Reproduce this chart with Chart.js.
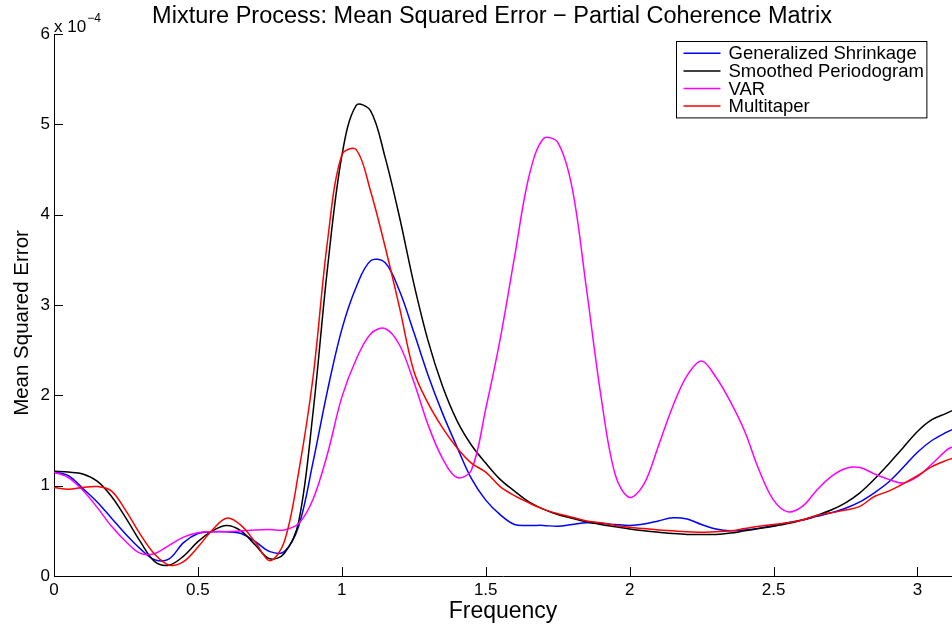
<!DOCTYPE html>
<html>
<head>
<meta charset="utf-8">
<title>Mixture Process MSE</title>
<script src="https://cdn.jsdelivr.net/npm/chart.js@4.4.1/dist/chart.umd.min.js"></script>
<style>
  html, body { margin: 0; padding: 0; background: #fff; }
  #wrap { width: 952px; height: 628px; position: relative; }
</style>
</head>
<body>
<div id="wrap"><canvas id="mseChart"></canvas></div>
<script>
// Frequency grid (radians), values in units of 1e-4
const freq = [
  0.00, 0.05, 0.10, 0.15, 0.20, 0.25, 0.30, 0.35, 0.40, 0.45,
  0.50, 0.55, 0.60, 0.65, 0.70, 0.75, 0.80, 0.85, 0.90, 0.95,
  1.00, 1.05, 1.10, 1.15, 1.20, 1.25, 1.30, 1.35, 1.40, 1.45,
  1.50, 1.55, 1.60, 1.65, 1.70, 1.75, 1.80, 1.85, 1.90, 1.95,
  2.00, 2.05, 2.10, 2.15, 2.20, 2.25, 2.30, 2.35, 2.40, 2.45,
  2.50, 2.55, 2.60, 2.65, 2.70, 2.75, 2.80, 2.85, 2.90, 2.95,
  3.00, 3.05, 3.10, 3.12
];

const shrinkage = [
  1.15, 1.11, 0.97, 0.82, 0.64, 0.46, 0.30, 0.18, 0.19, 0.37,
  0.47, 0.49, 0.49, 0.47, 0.38, 0.27, 0.27, 0.55, 1.26, 2.05,
  2.73, 3.20, 3.49, 3.47, 3.16, 2.70, 2.22, 1.80, 1.43, 1.08,
  0.84, 0.68, 0.57, 0.56, 0.56, 0.55, 0.57, 0.59, 0.585, 0.57,
  0.56, 0.575, 0.61, 0.645, 0.63, 0.57, 0.52, 0.50, 0.51, 0.53,
  0.56, 0.59, 0.62, 0.66, 0.70, 0.75, 0.82, 0.92, 1.04, 1.20,
  1.37, 1.50, 1.59, 1.62
];

const periodogram = [
  1.16, 1.15, 1.13, 1.05, 0.88, 0.64, 0.38, 0.16, 0.12, 0.22,
  0.38, 0.50, 0.56, 0.50, 0.34, 0.19, 0.25, 0.60, 1.81, 3.40,
  4.65, 5.21, 5.15, 4.64, 3.98, 3.24, 2.60, 2.10, 1.72, 1.45,
  1.25, 1.07, 0.94, 0.82, 0.74, 0.68, 0.64, 0.60, 0.57, 0.545,
  0.52, 0.50, 0.485, 0.47, 0.46, 0.46, 0.46, 0.475, 0.50, 0.525,
  0.55, 0.58, 0.62, 0.67, 0.73, 0.81, 0.92, 1.07, 1.24, 1.42,
  1.60, 1.73, 1.80, 1.83
];

const varModel = [
  1.15, 1.09, 0.95, 0.76, 0.55, 0.38, 0.25, 0.25, 0.34, 0.43,
  0.48, 0.49, 0.49, 0.50, 0.51, 0.515, 0.51, 0.58, 0.85, 1.35,
  1.98, 2.40, 2.68, 2.74, 2.56, 2.15, 1.67, 1.30, 1.09, 1.17,
  1.85, 2.62, 3.53, 4.42, 4.84, 4.80, 4.30, 3.18, 2.00, 1.12,
  0.87, 1.02, 1.44, 1.88, 2.22, 2.38, 2.20, 1.93, 1.60, 1.17,
  0.84, 0.71, 0.77, 0.95, 1.10, 1.19, 1.20, 1.13, 1.07, 1.03,
  1.10, 1.24, 1.39, 1.43
];

const multitaper = [
  0.98, 0.96, 0.98, 0.99, 0.94, 0.72, 0.46, 0.24, 0.12, 0.16,
  0.32, 0.51, 0.64, 0.56, 0.37, 0.17, 0.38, 1.15, 2.20, 3.70,
  4.66, 4.72, 4.26, 3.65, 2.98, 2.27, 1.91, 1.64, 1.42, 1.25,
  1.15, 0.99, 0.89, 0.81, 0.74, 0.69, 0.65, 0.61, 0.59, 0.56,
  0.54, 0.525, 0.51, 0.50, 0.49, 0.485, 0.49, 0.50, 0.525, 0.55,
  0.57, 0.59, 0.62, 0.67, 0.70, 0.73, 0.77, 0.88, 0.94, 1.02,
  1.11, 1.21, 1.28, 1.30
];

const seriesNames = ['Generalized Shrinkage', 'Smoothed Periodogram', 'VAR', 'Multitaper'];
const seriesColors = ['#0000ff', '#000000', '#ff00ff', '#ff0000'];
const xTicks = [0, 0.5, 1, 1.5, 2, 2.5, 3];
const yTicks = [0, 1, 2, 3, 4, 5, 6];
const chartTitle = 'Mixture Process: Mean Squared Error \u2212 Partial Coherence Matrix';
const yAxisTitle = 'Mean Squared Error';

const FONT = "'Liberation Sans', Arial, Helvetica, sans-serif";

function toPoints(values) {
  return freq.map((f, i) => ({ x: f, y: values[i] }));
}

// title and rotated y label, placed like the original figure
const figureText = {
  id: 'figureText',
  afterDraw(chart) {
    const { ctx } = chart;
    ctx.save();
    ctx.fillStyle = '#000';
    ctx.font = '23.5px ' + FONT;
    ctx.textAlign = 'center';
    ctx.textBaseline = 'alphabetic';
    ctx.fillText(chartTitle, 492, 23);

    ctx.translate(22, 323);
    ctx.rotate(-Math.PI / 2);
    ctx.font = '20.5px ' + FONT;
    ctx.textBaseline = 'middle';
    ctx.fillText(yAxisTitle, 0, 0);
    ctx.restore();
  }
};

// MATLAB style ticks pointing into the axes
const inwardTicks = {
  id: 'inwardTicks',
  afterDraw(chart) {
    const { ctx, chartArea, scales } = chart;
    ctx.save();
    ctx.strokeStyle = '#000';
    ctx.lineWidth = 1;
    ctx.beginPath();
    xTicks.forEach(v => {
      const px = Math.round(scales.x.getPixelForValue(v)) + 0.5;
      ctx.moveTo(px, chartArea.bottom);
      ctx.lineTo(px, chartArea.bottom - 9);
    });
    yTicks.forEach(v => {
      const py = Math.round(scales.y.getPixelForValue(v)) + 0.5;
      ctx.moveTo(chartArea.left, py);
      ctx.lineTo(chartArea.left + 9, py);
    });
    ctx.stroke();
    ctx.restore();
  }
};

// "x 10^-4" exponent label above the y axis
const exponentLabel = {
  id: 'exponentLabel',
  afterDraw(chart) {
    const { ctx, chartArea } = chart;
    ctx.save();
    ctx.fillStyle = '#000';
    ctx.textBaseline = 'alphabetic';
    ctx.textAlign = 'left';
    ctx.font = '17px ' + FONT;
    const base = 'x 10';
    ctx.fillText(base, chartArea.left, chartArea.top - 2);
    const w = ctx.measureText(base).width;
    ctx.font = '12px ' + FONT;
    ctx.fillText('\u22124', chartArea.left + w + 1, chartArea.top - 12);
    ctx.restore();
  }
};

// Boxed legend in the upper right corner
const boxLegend = {
  id: 'boxLegend',
  afterDraw(chart) {
    const { ctx } = chart;
    const sets = chart.data.datasets;
    ctx.save();
    ctx.font = '18.5px ' + FONT;
    let maxW = 0;
    sets.forEach(ds => { maxW = Math.max(maxW, ctx.measureText(ds.label).width); });
    const left = 676.5, top = 41.5, rowH = 17.6;
    const lineLen = 37, gap = 8, pad = 7;
    const width = pad + lineLen + gap + maxW + pad - 4;
    const height = rowH * sets.length + 6;
    ctx.fillStyle = '#fff';
    ctx.fillRect(left, top, width, height);
    ctx.strokeStyle = '#000';
    ctx.lineWidth = 1;
    ctx.strokeRect(left, top, width, height);
    ctx.textBaseline = 'middle';
    ctx.textAlign = 'left';
    sets.forEach((ds, i) => {
      const cy = top + 3 + rowH * i + rowH / 2;
      ctx.strokeStyle = ds.borderColor;
      ctx.lineWidth = 1.5;
      ctx.beginPath();
      ctx.moveTo(left + pad, cy);
      ctx.lineTo(left + pad + lineLen, cy);
      ctx.stroke();
      ctx.fillStyle = '#000';
      ctx.fillText(ds.label, left + pad + lineLen + gap, cy + 1);
    });
    ctx.restore();
  }
};

const dataSets = [shrinkage, periodogram, varModel, multitaper].map((vals, i) => ({
  label: seriesNames[i],
  data: toPoints(vals),
  borderColor: seriesColors[i],
  backgroundColor: seriesColors[i],
  borderWidth: 1.5,
  pointRadius: 0,
  fill: false,
  tension: 0.35,
  order: 4 - i
}));

new Chart(document.getElementById('mseChart'), {
  type: 'line',
  data: { datasets: dataSets },
  options: {
    responsive: true,
    maintainAspectRatio: false,
    animation: false,
    devicePixelRatio: 1,
    layout: { padding: { left: 0, right: 0, top: 34, bottom: 0 } },
    plugins: {
      legend: { display: false },
      tooltip: { enabled: false },
      title: { display: false }
    },
    scales: {
      x: {
        type: 'linear',
        min: 0,
        max: 3.12,
        afterFit(scale) { scale.height = 52; },
        border: { display: true, color: '#000', width: 1 },
        grid: { display: false, drawTicks: false },
        ticks: {
          stepSize: 0.5,
          includeBounds: false,
          padding: 4,
          color: '#000',
          maxRotation: 0,
          font: { family: FONT, size: 17 },
          callback: v => String(v)
        },
        title: {
          display: true,
          text: 'Frequency',
          color: '#000',
          font: { family: FONT, size: 23 },
          padding: { top: 0, bottom: 3 }
        }
      },
      y: {
        type: 'linear',
        min: 0,
        max: 6,
        afterFit(scale) { scale.width = 54; },
        border: { display: true, color: '#000', width: 1 },
        grid: { display: false, drawTicks: false },
        ticks: {
          stepSize: 1,
          padding: 4,
          color: '#000',
          font: { family: FONT, size: 17 },
          callback: v => String(v)
        },
        title: { display: false }
      }
    }
  },
  plugins: [figureText, inwardTicks, exponentLabel, boxLegend]
});
</script>
</body>
</html>
